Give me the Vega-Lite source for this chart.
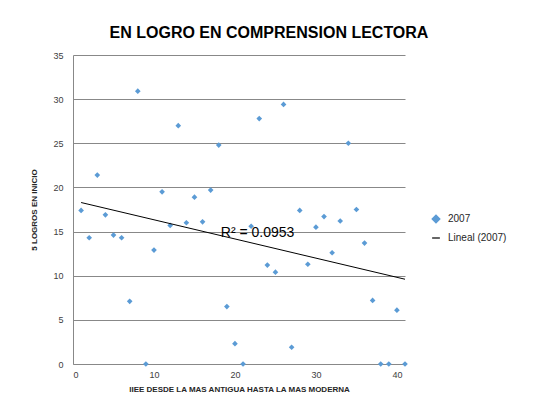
{
  "$schema": "https://vega.github.io/schema/vega-lite/v6.json",
  "width": 332,
  "height": 309,
  "autosize": "none",
  "padding": {"left": 73, "top": 55, "right": 136, "bottom": 46},
  "background": "white",
  "config": {
    "font": "Liberation Sans",
    "view": {"stroke": null},
    "axis": {"labelColor": "#404040", "labelFontSize": 9, "titleFontSize": 8, "titleFontWeight": "bold", "titleColor": "#262626", "tickSize": 0, "domainColor": "#888888", "gridColor": "#888888", "gridWidth": 1}
  },
  "title": {"text": "EN LOGRO EN COMPRENSION LECTORA", "fontSize": 16, "fontWeight": "bold", "color": "#000000", "anchor": "middle", "offset": 10, "dx": 30},
  "data": {"values": [
    {"x": 1, "y": 17.4}, {"x": 2, "y": 14.3}, {"x": 3, "y": 21.4}, {"x": 4, "y": 16.9},
    {"x": 5, "y": 14.6}, {"x": 6, "y": 14.3}, {"x": 7, "y": 7.1}, {"x": 8, "y": 30.9},
    {"x": 9, "y": 0}, {"x": 10, "y": 12.9}, {"x": 11, "y": 19.5}, {"x": 12, "y": 15.7},
    {"x": 13, "y": 27.0}, {"x": 14, "y": 16.0}, {"x": 15, "y": 18.9}, {"x": 16, "y": 16.1},
    {"x": 17, "y": 19.7}, {"x": 18, "y": 24.8}, {"x": 19, "y": 6.5}, {"x": 20, "y": 2.3},
    {"x": 21, "y": 0}, {"x": 22, "y": 15.6}, {"x": 23, "y": 27.8}, {"x": 24, "y": 11.2},
    {"x": 25, "y": 10.4}, {"x": 26, "y": 29.4}, {"x": 27, "y": 1.9}, {"x": 28, "y": 17.4},
    {"x": 29, "y": 11.3}, {"x": 30, "y": 15.5}, {"x": 31, "y": 16.7}, {"x": 32, "y": 12.6},
    {"x": 33, "y": 16.2}, {"x": 34, "y": 25.0}, {"x": 35, "y": 17.5}, {"x": 36, "y": 13.7},
    {"x": 37, "y": 7.2}, {"x": 38, "y": 0}, {"x": 39, "y": 0}, {"x": 40, "y": 6.1},
    {"x": 41, "y": 0}
  ]},
  "layer": [
    {
      "mark": {"type": "point", "filled": true, "size": 32, "opacity": 1},
      "encoding": {
        "x": {"field": "x", "type": "quantitative", "scale": {"domain": [0, 41], "nice": false}, "axis": {"values": [0, 10, 20, 30, 40], "grid": false, "title": "IIEE DESDE LA MAS ANTIGUA HASTA LA MAS MODERNA", "labelPadding": 6, "titlePadding": 6}},
        "y": {"field": "y", "type": "quantitative", "scale": {"domain": [0, 35], "nice": false}, "axis": {"values": [0, 5, 10, 15, 20, 25, 30, 35], "grid": true, "domain": true, "title": "5 LOGROS EN INICIO", "labelPadding": 10, "titlePadding": 14}},
        "color": {"datum": "2007", "scale": {"domain": ["2007", "Lineal (2007)"], "range": ["#5B9BD5", "#000000"]}, "legend": {"title": null, "orient": "none", "legendX": 358, "legendY": 159, "labelFontSize": 10, "labelColor": "#262626", "symbolStrokeWidth": 1.2, "rowPadding": 7, "symbolSize": 60, "labelOffset": 7}},
        "shape": {"datum": "2007", "scale": {"domain": ["2007", "Lineal (2007)"], "range": ["diamond", "stroke"]}, "legend": {"title": null, "orient": "none", "legendX": 358, "legendY": 159}}
      }
    },
    {
      "transform": [{"regression": "y", "on": "x", "extent": [1, 41]}],
      "mark": {"type": "line", "color": "#000000", "strokeWidth": 1},
      "encoding": {
        "x": {"field": "x", "type": "quantitative"},
        "y": {"field": "y", "type": "quantitative"},
        "color": {"datum": "Lineal (2007)"}
      }
    },
    {
      "data": {"values": [{"label": "R² = 0.0953"}]},
      "mark": {"type": "text", "fontSize": 14, "color": "#000000", "align": "center", "baseline": "middle"},
      "encoding": {
        "x": {"datum": 22.8},
        "y": {"datum": 14.8},
        "text": {"field": "label"}
      }
    }
  ]
}
